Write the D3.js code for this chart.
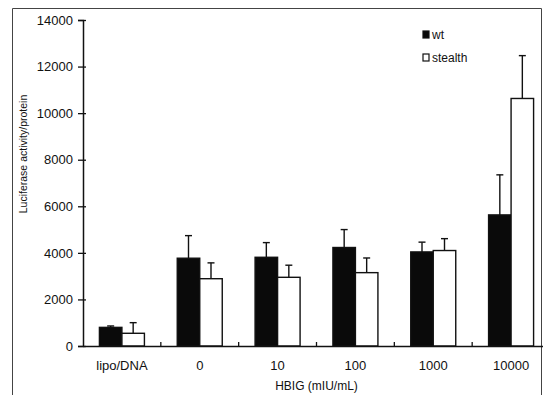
<!DOCTYPE html>
<html>
<head>
<meta charset="utf-8">
<script src="https://cdn.jsdelivr.net/npm/d3@7"></script>
<style>
  body { margin: 0; background: #fff; }
  svg { display: block; font-family: "Liberation Sans", Arial, sans-serif; }
</style>
</head>
<body>
<svg id="chart" width="543" height="395"></svg>
<script>
let categories = ["lipo/DNA", "0", "10", "100", "1000", "10000"]
let series = ["wt", "stealth"]
let wtValues = [800, 3770, 3810, 4230, 4040, 5630]
let wtErrors = [60, 970, 630, 770, 420, 1720]
let stealthValues = [546, 2890, 2950, 3150, 4100, 10630]
let stealthErrors = [456, 680, 520, 630, 510, 1840]
let yTicks = [0, 2000, 4000, 6000, 8000, 10000, 12000, 14000]

let margin = {top: 20, left: 83, bottom: 346, right: 550}
let svg = d3.select("#chart")

let scales = {
  x: d3.scaleBand()
    .domain(categories)
    .range([margin.left, margin.right]),
  y: d3.scaleLinear()
    .domain([0, 14000])
    .range([margin.bottom, margin.top])
}
let pairWidth = 45
scales.inner = d3.scaleBand()
  .domain(series)
  .range([(scales.x.bandwidth() - pairWidth) / 2, (scales.x.bandwidth() + pairWidth) / 2])

let rows = categories.map((c, i) => [
  {cat: c, key: "wt", value: wtValues[i], err: wtErrors[i]},
  {cat: c, key: "stealth", value: stealthValues[i], err: stealthErrors[i]}
]).flat()

let barMid = d => scales.x(d.cat) + scales.inner(d.key) + scales.inner.bandwidth() / 2

// scanned frame
svg.append("path")
  .attr("d", "M12.5,395 L12.5,8.5 L541.5,8.5 L541.5,395")
  .attr("fill", "none")
  .attr("stroke", "#444")
  .attr("stroke-width", 1)

// error bars (drawn first so bar outline sits on top)
let errs = svg.append("g")
  .selectAll("g")
  .data(rows).enter()
  .append("g")
  .attr("stroke", "#111")
  .attr("stroke-width", 1.4)
errs.append("line")
  .attr("x1", barMid)
  .attr("x2", barMid)
  .attr("y1", d => scales.y(d.value))
  .attr("y2", d => scales.y(d.value + d.err))
errs.append("line")
  .attr("x1", d => barMid(d) - 3.5)
  .attr("x2", d => barMid(d) + 3.5)
  .attr("y1", d => scales.y(d.value + d.err))
  .attr("y2", d => scales.y(d.value + d.err))

// bars
svg.append("g")
  .selectAll("rect")
  .data(rows).enter()
  .append("rect")
  .attr("x", d => scales.x(d.cat) + scales.inner(d.key))
  .attr("width", scales.inner.bandwidth())
  .attr("y", d => scales.y(d.value))
  .attr("height", d => scales.y(0) - scales.y(d.value))
  .attr("fill", d => d.key == "wt" ? "#0a0a0a" : "#fff")
  .attr("stroke", "#111")
  .attr("stroke-width", 1.4)

// y axis
let yAxis = d3.axisLeft(scales.y)
  .tickValues(yTicks)
  .tickFormat(d3.format("d"))
  .tickSize(5)
  .tickPadding(5)
let gy = svg.append("g")
  .attr("transform", `translate(${margin.left}, 0)`)
  .call(yAxis)
gy.select(".domain").attr("stroke", "#111").attr("stroke-width", 1.5)
gy.selectAll(".tick line").attr("x1", 3).attr("stroke", "#111").attr("stroke-width", 1.3)
gy.selectAll("text")
  .attr("font-size", 13)
  .attr("font-family", "Liberation Sans, Arial, sans-serif")
  .attr("fill", "#111")

// x axis
let xAxis = d3.axisBottom(scales.x)
  .tickSize(0)
  .tickPadding(15)
let gx = svg.append("g")
  .attr("transform", `translate(0, ${margin.bottom})`)
  .call(xAxis)
gx.select(".domain").attr("stroke", "#111").attr("stroke-width", 1.5)
gx.selectAll("text")
  .attr("font-size", 13)
  .attr("font-family", "Liberation Sans, Arial, sans-serif")
  .attr("fill", "#111")

// small category separator ticks
svg.append("g")
  .selectAll("line")
  .data(categories.slice(1)).enter()
  .append("line")
  .attr("x1", d => scales.x(d))
  .attr("x2", d => scales.x(d))
  .attr("y1", margin.bottom)
  .attr("y2", margin.bottom - 4)
  .attr("stroke", "#111")
  .attr("stroke-width", 1.3)

// axis titles
svg.append("text")
  .attr("transform", `translate(27, ${(margin.top + margin.bottom) / 2 - 29}) rotate(-90)`)
  .attr("text-anchor", "middle")
  .attr("font-size", 10.5)
  .attr("fill", "#111")
  .text("Luciferase activity/protein")

svg.append("text")
  .attr("x", (margin.left + margin.right) / 2)
  .attr("y", 390)
  .attr("text-anchor", "middle")
  .attr("font-size", 12)
  .attr("fill", "#111")
  .text("HBIG (mIU/mL)")

// legend
let legend = svg.append("g")
  .selectAll("g")
  .data(series).enter()
  .append("g")
  .attr("transform", (d, i) => `translate(423, ${31 + i * 23})`)
legend.append("rect")
  .attr("width", 6)
  .attr("height", 7)
  .attr("fill", d => d == "wt" ? "#0a0a0a" : "#fff")
  .attr("stroke", "#111")
  .attr("stroke-width", 1.2)
legend.append("text")
  .attr("x", 9)
  .attr("y", 7.5)
  .attr("font-size", 12)
  .attr("fill", "#111")
  .text(d => d)
</script>
</body>
</html>
